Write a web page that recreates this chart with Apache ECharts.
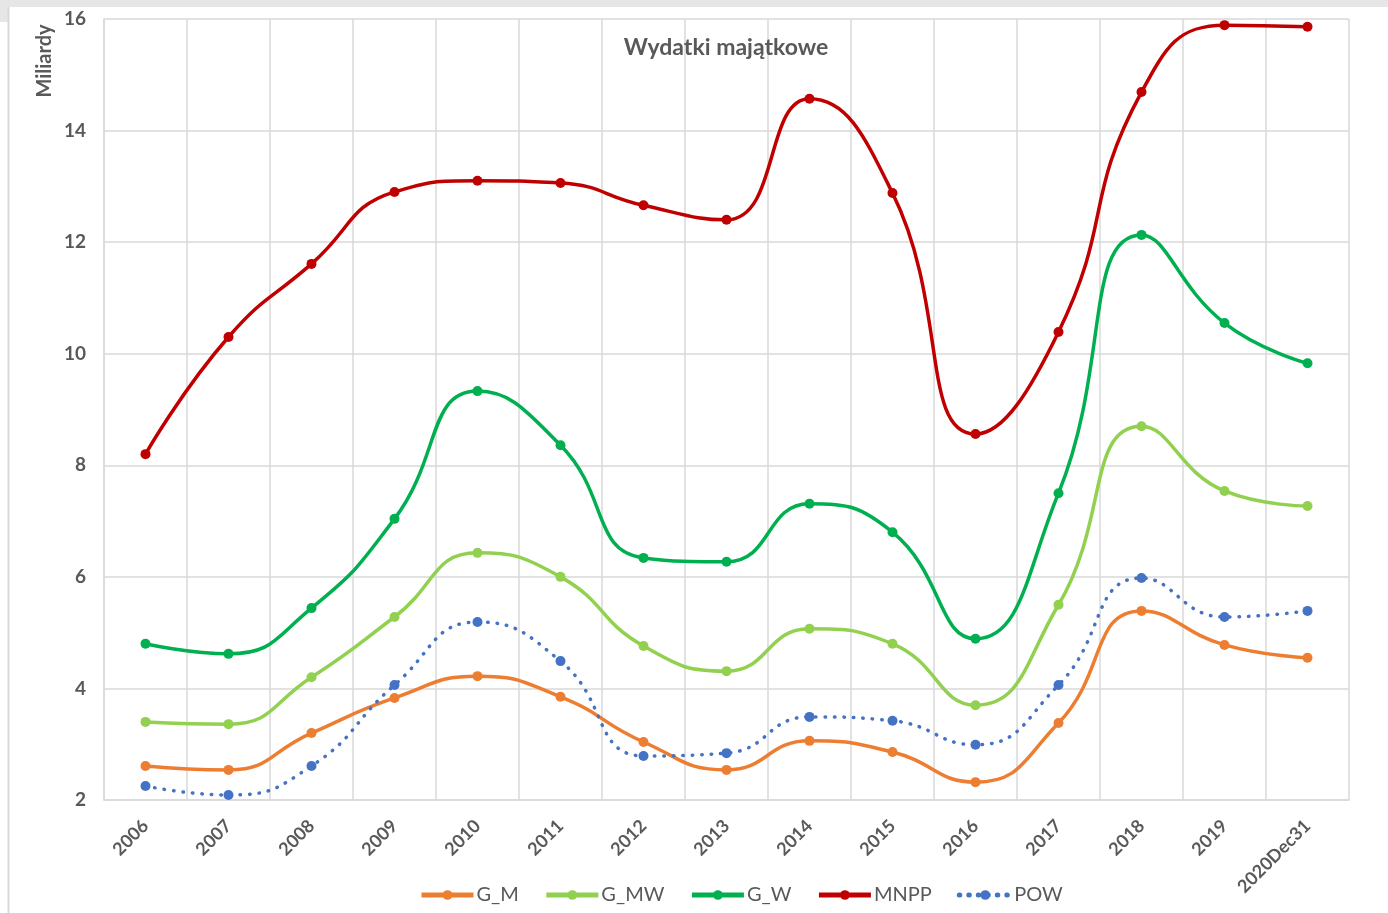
<!DOCTYPE html>
<html><head><meta charset="utf-8">
<script src="https://cdn.jsdelivr.net/npm/echarts@6/dist/echarts.min.js"></script>
<style>html,body{margin:0;padding:0;background:#fff;}#c{width:1388px;height:913px;}</style>
</head><body><div id="c"></div>
<script>
const categories = ['2006','2007','2008','2009','2010','2011','2012','2013','2014','2015','2016','2017','2018','2019','2020Dec31'];
const G_M  = [2.61,2.54,3.20,3.83,4.22,3.85,3.04,2.54,3.06,2.86,2.32,3.38,5.39,4.78,4.55];
const G_MW = [3.40,3.36,4.20,5.28,6.43,6.00,4.76,4.31,5.07,4.80,3.70,5.50,8.70,7.54,7.27];
const G_W  = [4.80,4.62,5.44,7.04,9.33,8.36,6.34,6.27,7.31,6.80,4.89,7.50,12.13,10.55,9.83];
const MNPP = [8.20,10.30,11.61,12.90,13.10,13.06,12.66,12.40,14.57,12.88,8.56,10.39,14.69,15.89,15.86];
const POW  = [2.25,2.09,2.61,4.06,5.19,4.49,2.79,2.84,3.49,3.42,2.99,4.06,5.98,5.28,5.39];
const seriesNames = ['G_M','G_MW','G_W','MNPP','POW'];
const seriesData = [G_M, G_MW, G_W, MNPP, POW];
const colors = ['#ED7D31','#92D050','#00B050','#C00000','#4472C4'];

const FONT = 'Lato, "Open Sans", sans-serif';
const TXT = '#595959';
const chart = echarts.init(document.getElementById('c'), null, {renderer:'canvas'});
chart.setOption({
  animation:false,
  color: colors,
  graphic:[
    {type:'rect', left:0, top:0, shape:{width:1388,height:7}, style:{fill:'#e6e6e6'}},
    {type:'rect', left:0, top:0, shape:{width:8,height:22}, style:{fill:'#e6e6e6'}},
    {type:'line', shape:{x1:8.5,y1:7,x2:8.5,y2:913}, style:{stroke:'#d9d9d9', lineWidth:2}},
    {type:'text', x:45, y:61, rotation:Math.PI/2,
      style:{text:'Miliardy', fontFamily:FONT, fontSize:20, fontWeight:'bold', fill:TXT, align:'center', verticalAlign:'middle'}}
  ],
  title:{text:'Wydatki majątkowe', left:721, top:31, textAlign:'center',
    textStyle:{fontFamily:FONT, fontSize:23, fontWeight:'bold', color:TXT}},
  grid:{left:104, right:39, top:19, bottom:113, containLabel:false, outerBoundsMode:'none'},
  legend:{bottom:3, left:414, itemWidth:52, itemHeight:12, itemGap:25,
    lineStyle:{width:5},
    textStyle:{fontFamily:FONT, fontSize:20, color:TXT, padding:[0,0,0,-2]},
    data: seriesNames},
  xAxis:{type:'category', data:categories, boundaryGap:true,
    axisLine:{show:true, lineStyle:{color:'#d9d9d9', width:1.5}},
    axisTick:{show:false},
    splitLine:{show:true, lineStyle:{color:'#d9d9d9', width:1.5}},
    axisLabel:{rotate:45, margin:23, fontFamily:FONT, fontSize:18, fontWeight:'bold', color:TXT, interval:0}},
  yAxis:{type:'value', min:2, max:16, interval:2,
    axisLine:{show:true, lineStyle:{color:'#d9d9d9', width:1.5}},
    axisTick:{show:false},
    splitLine:{lineStyle:{color:'#d9d9d9', width:1.5}},
    axisLabel:{margin:18, fontFamily:FONT, fontSize:19, fontWeight:'bold', color:TXT}},
  series: seriesNames.map((n,i)=>({
    name:n, type:'line', data:seriesData[i], smooth:0.5,
    symbol:'circle', symbolSize:10,
    lineStyle: i===4 ? {width:3.5, type:[0.5,9], cap:'round', color:colors[i]} : {width:3.5, color:colors[i]},
    itemStyle:{color:colors[i]}
  }))
});
</script></body></html>
